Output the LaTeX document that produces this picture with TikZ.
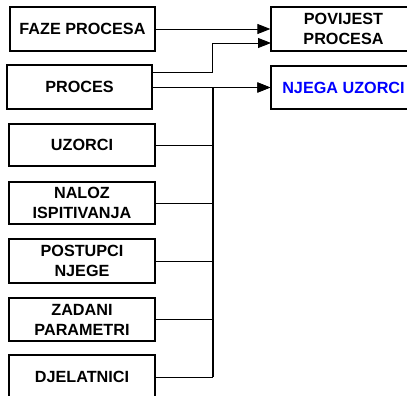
\documentclass[tikz,border=0pt]{standalone}
\usepackage{fontspec}
\setmainfont{Liberation Sans}
\usetikzlibrary{arrows.meta}
\begin{document}
\begin{tikzpicture}[x=1pt,y=-1pt,
  box/.style={draw,line width=1.2pt,inner sep=0pt,align=center,
    font=\fontsize{16.2}{20}\selectfont\bfseries},
  conn/.style={line width=0.9pt},
  bus/.style={line width=1.7pt},
  arr/.style={-{Triangle[length=13pt,width=10pt]}}]
\useasboundingbox (0,0) rectangle (407,396);
\clip (0,0) rectangle (407,396);
\fill[white] (0,0) rectangle (407,396);
% left column
\node[box,minimum width=145pt,minimum height=44pt] (faze) at (82.5,29) {FAZE PROCESA};
\node[box,minimum width=145pt,minimum height=44pt] (proc) at (79.5,87) {PROCES};
\node[box,minimum width=146pt,minimum height=42pt] (uzo) at (82,145) {UZORCI};
\node[box,minimum width=146pt,minimum height=42pt] (nal) at (82,203) {NALOZ\\ISPITIVANJA};
\node[box,minimum width=146pt,minimum height=44pt] (pos) at (82,261) {POSTUPCI\\NJEGE};
\node[box,minimum width=146pt,minimum height=43pt] (zad) at (82,319.5) {ZADANI\\PARAMETRI};
\node[box,minimum width=146pt,minimum height=44pt] (dje) at (82,377) {DJELATNICI};
% right column
\node[box,minimum width=145pt,minimum height=44pt] (pov) at (343.5,29) {POVIJEST\\PROCESA};
\node[box,minimum width=145pt,minimum height=43pt,text=blue] (nje) at (343.5,87.5) {NJEGA UZORCI};
% coordinates
\coordinate (jp) at (212,72);
\coordinate (p2) at (271,43);
\coordinate (bus) at (213,377);
% connectors
\draw[conn,arr] (faze.east) -- (pov.west);
\draw[conn,arr] (proc.east |- jp) -- (jp) |- (p2);
\draw[conn,arr] (proc.east |- nje.west) -- (nje.west);
\draw[conn] (uzo.east) -- (uzo.east -| bus);
\draw[conn] (nal.east) -- (nal.east -| bus);
\draw[conn] (pos.east) -- (pos.east -| bus);
\draw[conn] (zad.east) -- (zad.east -| bus);
\draw[conn] (dje.east) -- (bus);
\draw[bus,arr] (bus) |- (nje.west);
\end{tikzpicture}
\end{document}
